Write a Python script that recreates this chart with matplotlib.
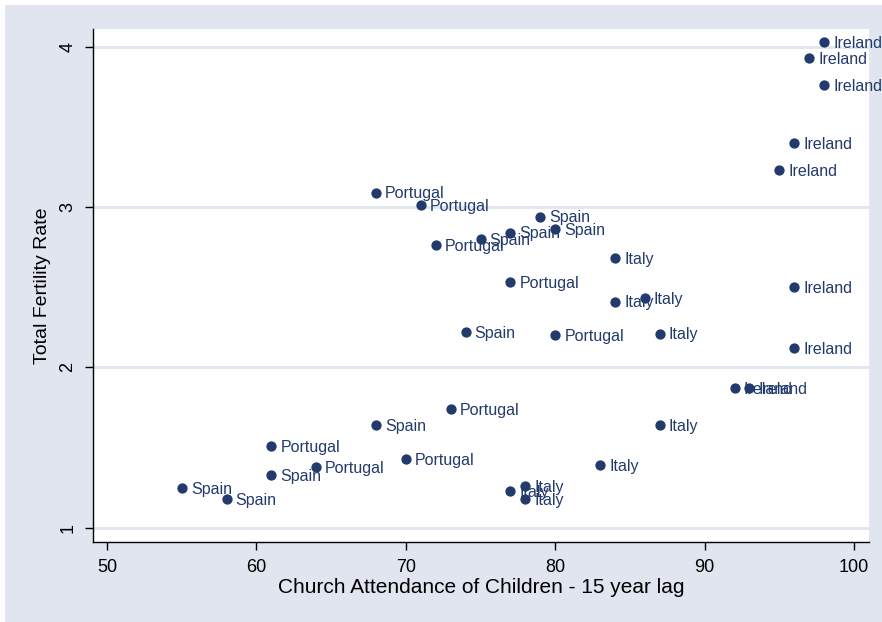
import matplotlib
matplotlib.use("Agg")
import matplotlib.pyplot as plt
from matplotlib.patches import Rectangle

plt.rcParams['font.family'] = ['Liberation Sans', 'DejaVu Sans']

# church attendance (15 year lag) vs total fertility rate
countries = (["Ireland"] * 9 + ["Portugal"] * 9 + ["Spain"] * 9 + ["Italy"] * 9)
attendance = [98, 97, 98, 96, 95, 96, 96, 92, 93,
              68, 71, 72, 77, 80, 73, 61, 64, 70,
              79, 77, 80, 75, 74, 68, 61, 55, 58,
              84, 84, 86, 87, 87, 83, 77, 78, 78]
fertility = [4.03, 3.93, 3.76, 3.40, 3.23, 2.50, 2.12, 1.87, 1.87,
             3.09, 3.01, 2.76, 2.53, 2.20, 1.74, 1.51, 1.38, 1.43,
             2.94, 2.84, 2.86, 2.80, 2.22, 1.64, 1.33, 1.245, 1.18,
             2.68, 2.41, 2.43, 2.21, 1.64, 1.39, 1.23, 1.26, 1.18]

xticks = [50, 60, 70, 80, 90, 100]
yticks = [1, 2, 3, 4]

navy = '#223A6C'
bg = '#E0E5F0'

fig = plt.figure(figsize=(8.82, 6.22), dpi=100, facecolor='white')
fig.patches.append(Rectangle((5 / 882, 0), 1, 1 - 5 / 622, transform=fig.transFigure,
                             facecolor=bg, edgecolor='none', zorder=-10))

ax = fig.add_axes([93 / 882, 1 - 542 / 622, (869 - 93) / 882, (542 - 29) / 622])
ax.set_facecolor('white')
ax.set_xlim(49.06, 101.0)
ax.set_ylim(0.91, 4.11)

for y in yticks:
    ax.axhline(y, color=bg, lw=2, zorder=0)

ax.scatter(attendance, fertility, s=55, color=navy, marker='o', zorder=3, linewidths=0)
for x, y, c in zip(attendance, fertility, countries):
    ax.annotate(c, (x, y), xytext=(6.5, -1), textcoords='offset points',
                va='center', ha='left', fontsize=11.5, color=navy, zorder=4,
                annotation_clip=False)

for s in ['top', 'right']:
    ax.spines[s].set_visible(False)
for s in ['left', 'bottom']:
    ax.spines[s].set_color('black')
    ax.spines[s].set_linewidth(1.0)

ax.set_xticks(xticks)
ax.set_yticks(yticks)
ax.tick_params(direction='out', length=6, width=1, labelsize=13, pad=6, colors='black')
for lbl in ax.get_yticklabels():
    lbl.set_rotation(90)
    lbl.set_va('center')

ax.set_xlabel('Church Attendance of Children - 15 year lag', fontsize=15, labelpad=2)
ax.set_ylabel('Total Fertility Rate', fontsize=14, labelpad=6)

fig.savefig('out.png', dpi=100, facecolor=fig.get_facecolor())
